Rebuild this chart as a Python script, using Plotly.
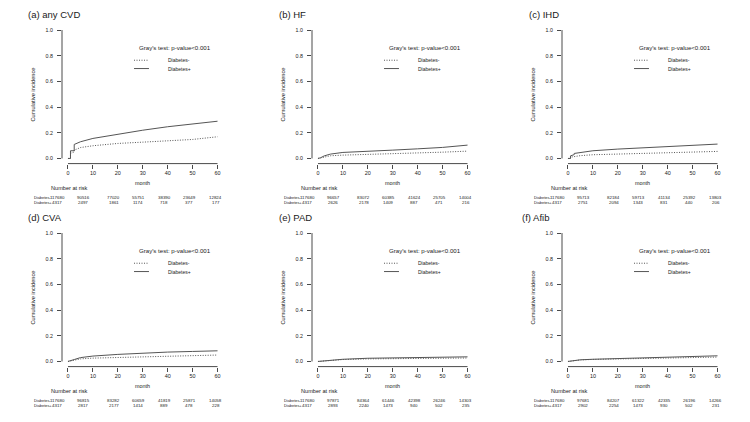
import plotly.graph_objects as go

# ---------------- data ----------------
panel_titles = ["(a) any CVD", "(b) HF", "(c) IHD", "(d) CVA", "(e) PAD", "(f) Afib"]
months = [0, 1, 1, 2.5, 2.5, 5, 10, 20, 30, 40, 50, 60]

dm_neg = {
    "a": [0, 0, 0.040, 0.050, 0.065, 0.085, 0.099, 0.117, 0.127, 0.138, 0.148, 0.169],
    "b": [0, 0.004, 0.004, 0.013, 0.013, 0.021, 0.026, 0.031, 0.036, 0.044, 0.049, 0.057],
    "c": [0, 0, 0.010, 0.014, 0.016, 0.022, 0.029, 0.034, 0.039, 0.047, 0.054, 0.055],
    "d": [0, 0.004, 0.004, 0.012, 0.012, 0.020, 0.026, 0.031, 0.034, 0.039, 0.047, 0.050],
    "e": [0, 0.002, 0.002, 0.005, 0.005, 0.010, 0.015, 0.020, 0.022, 0.024, 0.026, 0.027],
    "f": [0, 0.003, 0.003, 0.009, 0.009, 0.012, 0.016, 0.020, 0.024, 0.028, 0.031, 0.034],
}
dm_pos = {
    "a": [0, 0, 0.060, 0.060, 0.109, 0.130, 0.156, 0.190, 0.220, 0.247, 0.268, 0.290],
    "b": [0, 0.005, 0.005, 0.020, 0.020, 0.034, 0.047, 0.054, 0.065, 0.075, 0.086, 0.104],
    "c": [0, 0, 0.020, 0.030, 0.039, 0.048, 0.060, 0.073, 0.083, 0.093, 0.101, 0.112],
    "d": [0, 0.004, 0.004, 0.015, 0.015, 0.030, 0.042, 0.055, 0.065, 0.073, 0.078, 0.083],
    "e": [0, 0.002, 0.002, 0.006, 0.006, 0.011, 0.017, 0.025, 0.029, 0.033, 0.034, 0.036],
    "f": [0, 0.003, 0.003, 0.010, 0.010, 0.013, 0.017, 0.022, 0.026, 0.030, 0.035, 0.044],
}

risk_neg = {
    "a": [117680, 90516, 77020, 55751, 38390, 23649, 12824],
    "b": [117680, 96657, 83072, 60385, 41624, 25705, 14004],
    "c": [117680, 95713, 82184, 59713, 41134, 25392, 13803],
    "d": [117680, 96815, 83282, 60659, 41819, 25871, 14058],
    "e": [117680, 97871, 84364, 61446, 42398, 26246, 14303],
    "f": [117680, 97681, 84207, 61322, 42335, 26196, 14266],
}
risk_pos = {
    "a": [4317, 2497, 1861, 1174, 718, 377, 177],
    "b": [4317, 2626, 2178, 1409, 887, 471, 216],
    "c": [4317, 2751, 2094, 1343, 831, 440, 206],
    "d": [4317, 2817, 2177, 1414, 889, 478, 228],
    "e": [4317, 2893, 2240, 1473, 940, 502, 235],
    "f": [4317, 2902, 2254, 1473, 930, 502, 231],
}
x_ticks = [0, 10, 20, 30, 40, 50, 60]
y_ticks = [0, 0.2, 0.4, 0.6, 0.8, 1.0]
test_text = "Gray's test: p-value<0.001"

# ---------------- layout helpers ----------------
W, H = 750, 422
FONT = "Liberation Sans, Arial, sans-serif"
TXT = "#1a1a1a"
LINE = "#555555"
AXIS = "#4a4a4a"
DOT = "1px,1.5px"
keys = ["a", "b", "c", "d", "e", "f"]
col_off = [0, 250, 500]
row_off = [0, 203]
title_x_px = [26, 276.7, 526.7, 26, 277.3, 520]
risk_col_px = [57.2, 83.4, 113.7, 138.0, 164.0, 189.0, 215.5]

def px(x):
    return x / W

def py(y):
    return 1 - y / H

fig = go.Figure()
annotations = []
shapes = []

for i, k in enumerate(keys):
    r, c = divmod(i, 3)
    n = i + 1
    xa = "x" if n == 1 else f"x{n}"
    ya = "y" if n == 1 else f"y{n}"
    ox, oy = col_off[c], row_off[r]

    fig.add_trace(go.Scatter(x=months, y=dm_neg[k], mode="lines",
                             line=dict(color=LINE, width=1, dash=DOT),
                             xaxis=xa, yaxis=ya, showlegend=False, hoverinfo="skip"))
    fig.add_trace(go.Scatter(x=months, y=dm_pos[k], mode="lines",
                             line=dict(color=LINE, width=1),
                             xaxis=xa, yaxis=ya, showlegend=False, hoverinfo="skip"))

    xkey = "xaxis" if n == 1 else f"xaxis{n}"
    ykey = "yaxis" if n == 1 else f"yaxis{n}"
    fig.layout[xkey] = dict(domain=[px(62 + ox), px(223.5 + ox)], range=[-2.4, 62.4],
                            anchor=ya, tickvals=x_ticks, ticks="outside", ticklen=4,
                            tickcolor=AXIS, tickwidth=1, showline=False, showgrid=False,
                            zeroline=False, tickfont=dict(family=FONT, size=5.4, color=TXT),
                            fixedrange=True)
    fig.layout[ykey] = dict(domain=[py(163.6 + oy), py(24.9 + oy)], range=[-0.04, 1.04],
                            anchor=xa, tickvals=y_ticks, tickformat=".1f", ticks="outside",
                            ticklen=4, tickcolor=AXIS, tickwidth=1, showline=False,
                            showgrid=False, zeroline=False, ticklabelstandoff=3,
                            tickfont=dict(family=FONT, size=5.3, color=TXT), fixedrange=True)

    # R-style axis lines spanning first to last tick
    shapes.append(dict(type="line", xref=xa, yref=f"{ya} domain", x0=x_ticks[0], x1=x_ticks[-1],
                       y0=0, y1=0, line=dict(color=AXIS, width=1)))
    shapes.append(dict(type="line", xref=f"{xa} domain", yref=ya, x0=0, x1=0,
                       y0=y_ticks[0], y1=y_ticks[-1], line=dict(color=AXIS, width=1)))

    # legend keys
    shapes.append(dict(type="line", xref=xa, yref=ya, x0=26.5, x1=32.5, y0=0.765, y1=0.765,
                       line=dict(color=LINE, width=1, dash=DOT)))
    shapes.append(dict(type="line", xref=xa, yref=ya, x0=26.5, x1=32.5, y0=0.70, y1=0.70,
                       line=dict(color=LINE, width=1)))
    annotations.append(dict(xref=xa, yref=ya, x=39.2, y=0.765, text="Diabetes-", showarrow=False,
                            xanchor="left", yanchor="middle",
                            font=dict(family=FONT, size=5.0, color=TXT)))
    annotations.append(dict(xref=xa, yref=ya, x=39.2, y=0.70, text="Diabetes+", showarrow=False,
                            xanchor="left", yanchor="middle",
                            font=dict(family=FONT, size=5.0, color=TXT)))
    annotations.append(dict(xref=xa, yref=ya, x=43, y=0.865, text=test_text, showarrow=False,
                            xanchor="center", yanchor="middle",
                            font=dict(family=FONT, size=6.1, color=TXT)))

    # titles
    annotations.append(dict(xref="paper", yref="paper", x=px(title_x_px[i]), y=py(14.7 + oy),
                            text=panel_titles[i], showarrow=False, xanchor="left",
                            yanchor="middle", font=dict(family=FONT, size=9.5, color=TXT)))
    # y axis title
    annotations.append(dict(xref="paper", yref=ya, x=px(33.3 + ox), y=0.5,
                            text="Cumulative incidence", textangle=-90, showarrow=False,
                            xanchor="center", yanchor="middle",
                            font=dict(family=FONT, size=5.7, color=TXT)))
    # x axis title
    annotations.append(dict(xref=xa, yref="paper", x=30, y=py(182.7 + oy), text="month",
                            showarrow=False, xanchor="center", yanchor="middle",
                            font=dict(family=FONT, size=5.4, color=TXT)))
    # number at risk table
    annotations.append(dict(xref="paper", yref="paper", x=px(49.3 + ox), y=py(188.3 + oy),
                            text="Number at risk", showarrow=False, xanchor="left",
                            yanchor="middle", font=dict(family=FONT, size=5.6, color=TXT)))
    for lab, vals, yy in (("Diabetes-", risk_neg[k], 197.7), ("Diabetes+", risk_pos[k], 202.6)):
        annotations.append(dict(xref="paper", yref="paper", x=px(31.5 + ox), y=py(yy + oy),
                                text=lab, showarrow=False, xanchor="left", yanchor="middle",
                                font=dict(family=FONT, size=3.9, color=TXT)))
        for j, v in enumerate(vals):
            annotations.append(dict(xref="paper", yref="paper", x=px(risk_col_px[j] + ox),
                                    y=py(yy + oy), text=str(v), showarrow=False,
                                    xanchor="center", yanchor="middle",
                                    font=dict(family=FONT, size=4.4, color=TXT)))

fig.update_layout(width=W, height=H, margin=dict(l=0, r=0, t=0, b=0),
                  paper_bgcolor="white", plot_bgcolor="white",
                  annotations=annotations, shapes=shapes, showlegend=False)

fig.write_html("out.html")
